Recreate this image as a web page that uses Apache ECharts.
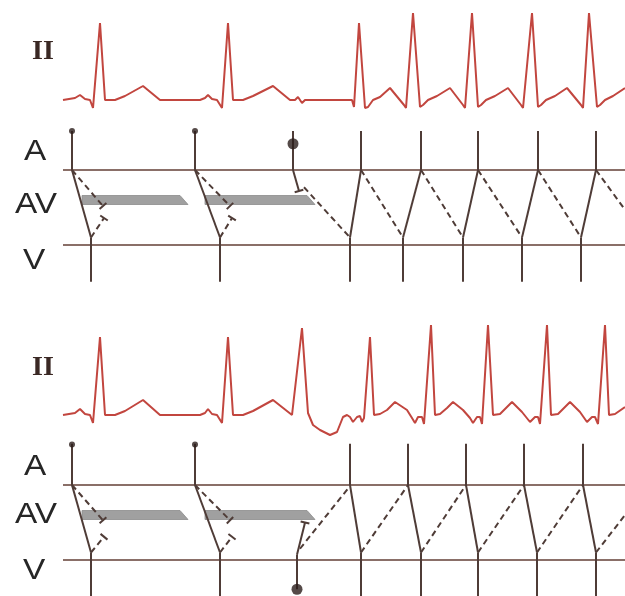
<!DOCTYPE html>
<html>
<head>
<meta charset="utf-8">
<script src="https://cdn.jsdelivr.net/npm/echarts@6.0.0/dist/echarts.min.js"></script>
<style>
html, body { margin: 0; padding: 0; background: #fff; }
#chart-container { width: 625px; height: 596px; }
</style>
</head>
<body>
<div id="chart-container"></div>
<script>
// time in ms, ECG amplitude in mV, ladder rows: 0 = A/AV border, 1 = AV/V border
var ecgTop = [
  [504, 0], [600, 0.05], [640, 0.125], [680, 0.025], [720, 0], [744, -0.2], [800, 1.925], [840, 0],
  [920, 0], [1000, 0.1], [1144, 0.35], [1280, 0],
  [1600, 0], [1640, 0.05], [1664, 0.125], [1696, 0.025], [1736, 0], [1776, -0.2], [1824, 1.925], [1864, 0],
  [1944, 0], [2024, 0.1], [2184, 0.35], [2320, 0],
  [2360, 0], [2384, 0.075], [2416, -0.075], [2440, 0], [2816, 0], [2832, -0.175], [2872, 1.925],
  [2920, -0.2], [2944, -0.175], [2984, 0], [3040, 0.075], [3120, 0.3], [3232, -0.125], [3248, -0.2],
  [3304, 2.175], [3360, -0.175], [3384, -0.125], [3424, 0], [3496, 0.1], [3600, 0.3], [3704, -0.125], [3720, -0.2],
  [3776, 2.175], [3824, -0.175], [3848, -0.125], [3888, 0], [3960, 0.1], [4064, 0.3], [4168, -0.125], [4184, -0.2],
  [4256, 2.175], [4304, -0.175], [4328, -0.125], [4368, 0], [4440, 0.1], [4536, 0.3], [4648, -0.125], [4664, -0.2],
  [4712, 2.175], [4776, -0.175], [4800, -0.125], [4840, 0], [4904, 0.1], [5000, 0.3]
];
var ecgBottom = [
  [504, 0], [600, 0.05], [640, 0.15], [680, 0.025], [720, 0], [744, -0.2], [800, 1.95], [840, 0],
  [920, 0], [1000, 0.1], [1144, 0.375], [1280, 0],
  [1600, 0], [1640, 0.05], [1664, 0.15], [1696, 0.025], [1736, 0], [1776, -0.2], [1824, 1.95], [1864, 0],
  [1944, 0], [2024, 0.1], [2184, 0.375], [2336, 0], [2352, -0.025], [2416, 2.175], [2464, 0.05],
  [2504, -0.25], [2560, -0.375], [2640, -0.5], [2696, -0.425], [2744, -0.05], [2776, 0], [2800, -0.05],
  [2824, -0.175], [2856, -0.05], [2880, -0.025], [2896, -0.175], [2912, -0.075], [2960, 1.95], [2992, 0],
  [3040, 0.025], [3096, 0.125], [3160, 0.325], [3256, 0.125], [3296, -0.075], [3320, -0.2], [3344, -0.05],
  [3376, -0.05], [3392, -0.225], [3448, 2.25], [3480, 0], [3520, 0.025], [3576, 0.175], [3624, 0.325],
  [3704, 0.125], [3760, -0.075], [3784, -0.2], [3816, -0.05], [3840, -0.05], [3856, -0.225], [3904, 2.25],
  [3944, 0], [4000, 0.025], [4048, 0.175], [4096, 0.325], [4176, 0.075], [4240, -0.175], [4280, -0.05],
  [4304, -0.05], [4320, -0.225], [4376, 2.25], [4408, 0], [4464, 0.025], [4512, 0.175], [4560, 0.325],
  [4640, 0.075], [4696, -0.175], [4736, -0.05], [4760, -0.05], [4784, -0.225], [4840, 2.25], [4872, 0],
  [4920, 0.025], [5000, 0.2]
];

// top ladder
var topAtrial = [576, 1560, 2344, 2888, 3368, 3824, 4304, 4768];
var topVentricular = [728, 1760, 2800, 3224, 3704, 4176, 4648];
var topSolid = [
  [576, 0, 728, 0.9], [1560, 0, 1760, 0.9],
  [2800, 0.9, 2888, 0], [3224, 0.9, 3368, 0], [3704, 0.9, 3824, 0], [4176, 0.9, 4304, 0], [4648, 0.9, 4768, 0]
];
var topDashed = [
  [2432, 0.23, 2800, 0.9],
  [2888, 0, 3224, 0.9], [3368, 0, 3704, 0.9], [3824, 0, 4176, 0.9], [4304, 0, 4648, 0.9], [4768, 0, 5000, 0.53]
];
// [t0, l0, t1, l1, dashed] ends with a block bar
var topBlocked = [
  [576, 0, 824, 0.48, 1], [728, 0.9, 832, 0.64, 1],
  [1560, 0, 1840, 0.48, 1], [1760, 0.9, 1856, 0.64, 1],
  [2344, 0, 2392, 0.28, 0]
];
var topDotsSmall = [[576, -0.52], [1560, -0.52]];
var topDotsBig = [[2344, -0.35]];

// bottom ladder
var botAtrial = [576, 1560, 2800, 3264, 3728, 4192, 4664];
var botVentricular = [728, 1760, 2888, 3368, 3824, 4296, 4768];
var botEctopic = [2376, 0.93, 1.39];
var botSolid = [
  [576, 0, 728, 0.9], [1560, 0, 1760, 0.9],
  [2800, 0, 2888, 0.9], [3264, 0, 3368, 0.9], [3728, 0, 3824, 0.9], [4192, 0, 4296, 0.9], [4664, 0, 4768, 0.9]
];
var botDashed = [
  [2400, 0.85, 2792, 0.03],
  [2888, 0.9, 3264, 0], [3368, 0.9, 3728, 0], [3824, 0.9, 4192, 0], [4296, 0.9, 4664, 0], [4768, 0.9, 5000, 0.4]
];
var botBlocked = [
  [576, 0, 824, 0.47, 1], [728, 0.9, 832, 0.69, 1],
  [1560, 0, 1840, 0.47, 1], [1760, 0.9, 1856, 0.69, 1],
  [2376, 0.93, 2440, 0.5, 0]
];
var botDotsSmall = [[576, -0.54], [1560, -0.54]];
var botDotsBig = [[2376, 1.39]];

// refractory bars [start, end]
var refractory = [[656, 1504], [1640, 2520]];
var refractoryRows = [0.34, 0.46];
var ruleLevels = [0, 1];
var ruleStart = 504;

var LINE = '#4f3c37';
var RULE = '#8a6f68';
var ECG = '#c2463f';

function buildSegments(atrial, aTop, ventricular, vBottom, solid, dashed, blocked, extra) {
  var out = [];
  ruleLevels.forEach(function (l) { out.push([ruleStart, l, 5000, l, 2, 0]); });
  atrial.forEach(function (t) { out.push([t, aTop, t, 0, 0, 0]); });
  ventricular.forEach(function (t) { out.push([t, 0.9, t, vBottom, 0, 0]); });
  solid.forEach(function (s) { out.push([s[0], s[1], s[2], s[3], 0, 0]); });
  dashed.forEach(function (s) { out.push([s[0], s[1], s[2], s[3], 1, 0]); });
  blocked.forEach(function (s) { out.push([s[0], s[1], s[2], s[3], s[4], 1]); });
  if (extra) out.push([extra[0], extra[1], extra[0], extra[2], 0, 0]);
  return out;
}

function renderSegment(params, api) {
  var a = api.coord([api.value(0), api.value(1)]);
  var b = api.coord([api.value(2), api.value(3)]);
  var kind = api.value(4);
  var children = [{
    type: 'line',
    shape: { x1: a[0], y1: a[1], x2: b[0], y2: b[1] },
    style: { stroke: kind === 2 ? RULE : LINE, lineWidth: 2, lineDash: kind === 1 ? [6, 4] : null }
  }];
  if (api.value(5)) {
    var dx = b[0] - a[0], dy = b[1] - a[1], len = Math.sqrt(dx * dx + dy * dy);
    var nx = -dy / len * 4.5, ny = dx / len * 4.5;
    children.push({
      type: 'line',
      shape: { x1: b[0] - nx, y1: b[1] - ny, x2: b[0] + nx, y2: b[1] + ny },
      style: { stroke: LINE, lineWidth: 2 }
    });
  }
  return { type: 'group', children: children };
}

function renderBar(params, api) {
  var p0 = api.coord([api.value(0), api.value(2)]);
  var p1 = api.coord([api.value(1), api.value(2)]);
  var p2 = api.coord([api.value(1), api.value(3)]);
  return {
    type: 'polygon',
    shape: { points: [[p0[0], p0[1]], [p1[0] - 8, p1[1]], [p2[0], p2[1]], [p0[0], p2[1]]] },
    style: { fill: '#a0a0a0', stroke: '#8c8c8c', lineWidth: 0.8 }
  };
}

var barData = refractory.map(function (r) { return [r[0], r[1], refractoryRows[0], refractoryRows[1]]; });

var dom = document.getElementById('chart-container');
var myChart = echarts.init(dom, null, { renderer: 'canvas' });

function xAx(i) { return { type: 'value', gridIndex: i, min: 0, max: 5000, show: false }; }

function labelText(txt, x, y, serif) {
  return {
    type: 'text', x: x, y: y, scaleX: serif ? 1 : 1.15,
    style: {
      text: txt, align: 'center', verticalAlign: 'middle',
      font: serif ? 'bold 28px "Liberation Serif", serif' : '29px "Liberation Sans", Arial, sans-serif',
      fill: serif ? '#3a2824' : '#262626'
    }
  };
}

var option = {
  animation: false,
  backgroundColor: '#fff',
  grid: [
    { left: 0, right: 0, top: 10, height: 110 },
    { left: 0, right: 0, top: 110, height: 180 },
    { left: 0, right: 0, top: 315, height: 130 },
    { left: 0, right: 0, top: 425, height: 171 }
  ],
  xAxis: [xAx(0), xAx(1), xAx(2), xAx(3)],
  yAxis: [
    { type: 'value', gridIndex: 0, min: -0.5, max: 2.25, show: false },
    { type: 'value', gridIndex: 1, min: -0.8, max: 1.6, inverse: true, show: false },
    { type: 'value', gridIndex: 2, min: -0.75, max: 2.5, show: false },
    { type: 'value', gridIndex: 3, min: -0.8, max: 1.48, inverse: true, show: false }
  ],
  graphic: [
    labelText('II', 43, 52, true),
    labelText('A', 35, 152),
    labelText('AV', 36, 205),
    labelText('V', 34, 261),
    labelText('II', 43, 368, true),
    labelText('A', 35, 467),
    labelText('AV', 36, 515),
    labelText('V', 34, 571)
  ],
  series: [
    { type: 'line', xAxisIndex: 0, yAxisIndex: 0, data: ecgTop, showSymbol: false,
      lineStyle: { color: ECG, width: 2 }, silent: true },
    { type: 'line', xAxisIndex: 2, yAxisIndex: 2, data: ecgBottom, showSymbol: false,
      lineStyle: { color: ECG, width: 2 }, silent: true },
    { type: 'custom', xAxisIndex: 1, yAxisIndex: 1, data: barData, renderItem: renderBar,
      encode: { x: [0, 1], y: [2, 3] }, z: 1 },
    { type: 'custom', xAxisIndex: 3, yAxisIndex: 3, data: barData, renderItem: renderBar,
      encode: { x: [0, 1], y: [2, 3] }, z: 1 },
    { type: 'custom', xAxisIndex: 1, yAxisIndex: 1, renderItem: renderSegment, clip: true,
      data: buildSegments(topAtrial, -0.52, topVentricular, 1.49, topSolid, topDashed, topBlocked),
      encode: { x: [0, 2], y: [1, 3] }, z: 2 },
    { type: 'custom', xAxisIndex: 3, yAxisIndex: 3, renderItem: renderSegment, clip: true,
      data: buildSegments(botAtrial, -0.55, botVentricular, 1.48, botSolid, botDashed, botBlocked, botEctopic),
      encode: { x: [0, 2], y: [1, 3] }, z: 2 },
    { type: 'scatter', xAxisIndex: 1, yAxisIndex: 1, data: topDotsSmall, symbolSize: 6,
      itemStyle: { color: '#2b1d1a' }, z: 3 },
    { type: 'scatter', xAxisIndex: 1, yAxisIndex: 1, data: topDotsBig, symbolSize: 11,
      itemStyle: { color: '#2b1d1a' }, z: 3 },
    { type: 'scatter', xAxisIndex: 3, yAxisIndex: 3, data: botDotsSmall, symbolSize: 6,
      itemStyle: { color: '#2b1d1a' }, z: 3 },
    { type: 'scatter', xAxisIndex: 3, yAxisIndex: 3, data: botDotsBig, symbolSize: 11,
      itemStyle: { color: '#2b1d1a' }, z: 3 }
  ]
};
myChart.setOption(option);
window.addEventListener('resize', myChart.resize);
</script>
</body>
</html>
